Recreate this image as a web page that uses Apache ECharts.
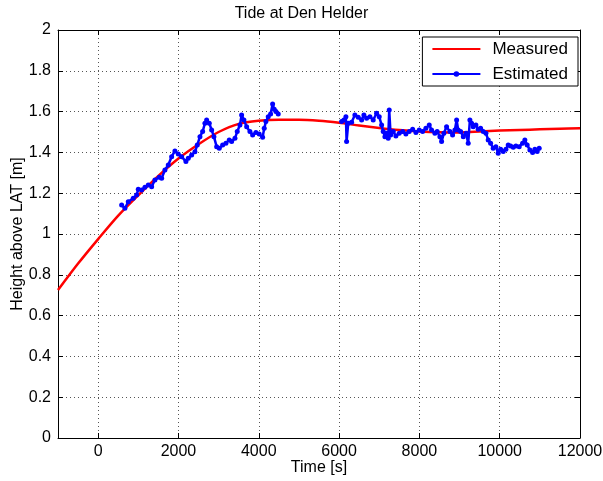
<!DOCTYPE html>
<html>
<head>
<meta charset="utf-8">
<script src="https://cdn.jsdelivr.net/npm/echarts@6/dist/echarts.min.js"></script>
<style>
  html, body { margin: 0; padding: 0; background: #fff; }
  #chart { width: 603px; height: 481px; }
</style>
</head>
<body>
<div id="chart"></div>
<script>
// Tick positions
const xTicks = [0, 2000, 4000, 6000, 8000, 10000, 12000];
const yTicks = [0, 0.2, 0.4, 0.6, 0.8, 1, 1.2, 1.4, 1.6, 1.8, 2];

// Measured tide (time in s, height in m)
const measuredTime = [-1000, -500, 0, 500, 1000, 1500, 2000, 2500, 3000, 3500, 4000, 4500, 5000,
  5500, 6000, 6500, 7000, 7500, 8000, 8500, 9000, 9500, 10000, 10500, 11000, 11500, 12000];
const measuredHeight = [0.725, 0.855, 0.975, 1.09, 1.19, 1.285, 1.37, 1.44, 1.50, 1.54, 1.555, 1.56, 1.56,
  1.555, 1.545, 1.532, 1.52, 1.51, 1.503, 1.499, 1.498, 1.502, 1.507, 1.51, 1.513, 1.516, 1.518];

// Estimated tide, first run
const estTimeA = [585, 667, 750, 874, 958, 999, 1083, 1165, 1248, 1332, 1414, 1522, 1581, 1663, 1746,
  1830, 1912, 1995, 2079, 2186, 2244, 2328, 2410, 2468, 2535, 2602, 2659, 2702, 2767, 2826, 2883,
  2951, 3016, 3100, 3182, 3265, 3324, 3407, 3464, 3531, 3573, 3630, 3698, 3780, 3847, 3929, 4011,
  4096, 4136, 4178, 4236, 4295, 4345, 4385, 4427, 4485];
const estHeightA = [1.142, 1.126, 1.158, 1.175, 1.191, 1.219, 1.216, 1.229, 1.240, 1.232, 1.265, 1.278,
  1.273, 1.314, 1.338, 1.379, 1.407, 1.392, 1.379, 1.355, 1.371, 1.387, 1.403, 1.436, 1.477, 1.502,
  1.543, 1.559, 1.543, 1.510, 1.477, 1.428, 1.420, 1.436, 1.445, 1.461, 1.453, 1.469, 1.502, 1.534,
  1.583, 1.559, 1.526, 1.502, 1.485, 1.497, 1.490, 1.474, 1.518, 1.551, 1.575, 1.588, 1.637, 1.611,
  1.600, 1.588];

// Estimated tide, second run
const estTimeB = [6063, 6120, 6170, 6187, 6228, 6312, 6394, 6477, 6561, 6618, 6686, 6768, 6850, 6934,
  7000, 7059, 7099, 7141, 7184, 7224, 7249, 7284, 7349, 7415, 7498, 7582, 7664, 7747, 7832, 7914,
  7996, 8080, 8162, 8245, 8303, 8386, 8443, 8511, 8553, 8610, 8677, 8760, 8827, 8884, 8927, 8967,
  9027, 9094, 9161, 9216, 9258, 9300, 9340, 9407, 9465, 9525, 9590, 9657, 9714, 9774, 9838, 9905,
  9963, 10023, 10088, 10155, 10212, 10272, 10337, 10404, 10486, 10570, 10627, 10685, 10752, 10819,
  10876, 10934, 10984];
const estHeightB = [1.551, 1.559, 1.575, 1.453, 1.543, 1.548, 1.583, 1.572, 1.559, 1.583, 1.567, 1.575,
  1.559, 1.592, 1.575, 1.534, 1.502, 1.477, 1.494, 1.469, 1.608, 1.485, 1.502, 1.480, 1.494, 1.502,
  1.490, 1.502, 1.513, 1.497, 1.510, 1.502, 1.518, 1.534, 1.510, 1.494, 1.502, 1.477, 1.453, 1.494,
  1.526, 1.502, 1.485, 1.510, 1.559, 1.510, 1.502, 1.477, 1.494, 1.445, 1.559, 1.543, 1.526, 1.534,
  1.513, 1.518, 1.502, 1.494, 1.461, 1.445, 1.420, 1.428, 1.396, 1.415, 1.404, 1.415, 1.436, 1.431,
  1.425, 1.431, 1.428, 1.445, 1.461, 1.436, 1.412, 1.399, 1.415, 1.404, 1.420];

const zip = (xs, ys) => xs.map((x, i) => [x, ys[i]]);

const FONT = 'Liberation Sans, Arial, Helvetica, sans-serif';
const black = '#000';

const chart = echarts.init(document.getElementById('chart'), null, { renderer: 'canvas' });

const gridLine = { show: true, lineStyle: { color: '#555', width: 1, type: [1, 3] } };
const tickStyle = { show: true, inside: true, length: 5, lineStyle: { color: black, width: 1 } };
const plainNumber = v => String(v);

chart.setOption({
  animation: false,
  backgroundColor: '#fff',
  textStyle: { fontFamily: FONT },
  title: {
    text: 'Tide at Den Helder',
    left: 'center',
    top: 1,
    textStyle: { fontFamily: FONT, fontSize: 16, fontWeight: 'normal', color: black }
  },
  grid: { left: 58, right: 23, top: 30, bottom: 43, containLabel: false, outerBoundsMode: 'none' },
  legend: {
    data: [
      { name: 'Measured', itemStyle: { opacity: 0 } },
      { name: 'Estimated' }
    ],
    orient: 'vertical',
    right: 25,
    top: 37,
    backgroundColor: '#fff',
    borderColor: black,
    borderWidth: 1,
    borderRadius: 0,
    padding: [2, 10, 2, 9],
    itemWidth: 48,
    itemHeight: 7,
    itemGap: 5,
    textStyle: { fontFamily: FONT, fontSize: 17, lineHeight: 20, color: black, padding: [0, 0, 0, 7] }
  },
  xAxis: [{
    type: 'value',
    position: 'bottom',
    min: -1000,
    max: 12000,
    name: 'Time [s]',
    nameLocation: 'middle',
    nameGap: 22,
    nameMoveOverlap: false,
    nameTextStyle: { fontFamily: FONT, fontSize: 16, color: black },
    axisLine: { show: true, onZero: false, lineStyle: { color: black, width: 1 } },
    axisTick: Object.assign({ customValues: xTicks }, tickStyle),
    axisLabel: { customValues: xTicks, formatter: plainNumber, fontFamily: FONT, fontSize: 16, color: black, margin: 6 },
    splitLine: gridLine
  }, {
    type: 'value',
    position: 'top',
    min: -1000,
    max: 12000,
    axisLine: { show: true, onZero: false, lineStyle: { color: black, width: 1 } },
    axisTick: Object.assign({ customValues: xTicks }, tickStyle),
    axisLabel: { show: false },
    splitLine: { show: false }
  }],
  yAxis: [{
    type: 'value',
    position: 'left',
    min: 0,
    max: 2,
    interval: 0.2,
    name: 'Height above LAT [m]',
    nameLocation: 'middle',
    nameGap: 32,
    nameMoveOverlap: false,
    nameTextStyle: { fontFamily: FONT, fontSize: 16, color: black },
    axisLine: { show: true, onZero: false, lineStyle: { color: black, width: 1 } },
    axisTick: tickStyle,
    axisLabel: { fontFamily: FONT, fontSize: 16, color: black, margin: 7 },
    splitLine: gridLine
  }, {
    type: 'value',
    position: 'right',
    min: 0,
    max: 2,
    interval: 0.2,
    axisLine: { show: true, onZero: false, lineStyle: { color: black, width: 1 } },
    axisTick: tickStyle,
    axisLabel: { show: false },
    splitLine: { show: false }
  }],
  series: [{
    name: 'Measured',
    type: 'line',
    data: zip(measuredTime, measuredHeight),
    symbol: 'none',
    smooth: 0.3,
    color: '#ff0000',
    lineStyle: { color: '#ff0000', width: 2.5 },
    z: 2
  }, {
    name: 'Estimated',
    type: 'line',
    data: zip(estTimeA, estHeightA),
    symbol: 'circle',
    symbolSize: 5,
    showAllSymbol: true,
    color: '#0000ff',
    itemStyle: { color: '#0000ff' },
    lineStyle: { color: '#0000ff', width: 2.5 },
    z: 3
  }, {
    name: 'Estimated',
    type: 'line',
    data: zip(estTimeB, estHeightB),
    symbol: 'circle',
    symbolSize: 5,
    showAllSymbol: true,
    color: '#0000ff',
    itemStyle: { color: '#0000ff' },
    lineStyle: { color: '#0000ff', width: 2.5 },
    z: 3
  }]
});
</script>
</body>
</html>
